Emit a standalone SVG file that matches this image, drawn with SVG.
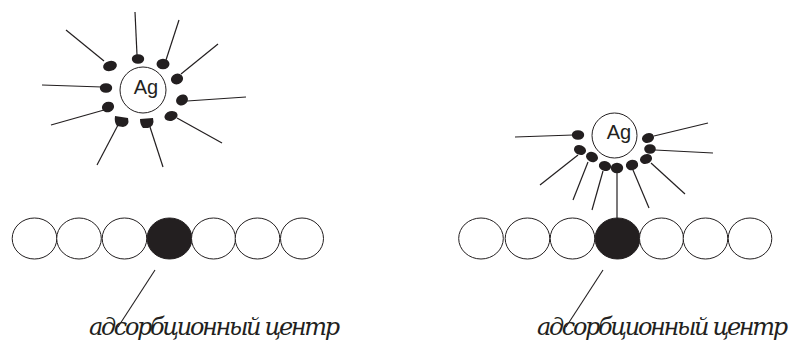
<svg xmlns="http://www.w3.org/2000/svg" width="790" height="344" viewBox="0 0 790 344">
  <style>
    .atom { fill: #ffffff; stroke: #231f20; stroke-width: 1; }
    .center { fill: #231f20; stroke: #231f20; stroke-width: 1; }
    .ag { fill: #ffffff; stroke: #231f20; stroke-width: 1; }
    .agtext { font-family: "Liberation Sans", Arial, sans-serif; font-size: 20px; fill: #231f20; }
    .tail { stroke: #231f20; stroke-width: 1.2; fill: none; }
    .head { fill: #231f20; }
    .lead { stroke: #231f20; stroke-width: 1.1; fill: none; }
    .label { font-family: "DejaVu Serif", "Liberation Serif", serif; font-style: italic; font-size: 24px; fill: #231f20; }
  </style>

  <!-- left: Ag particle with surrounding adsorbed molecules -->
  <g id="ag-left">
    <circle class="ag" cx="143" cy="90" r="23"/>
    <text class="agtext" x="146" y="94" text-anchor="middle">Ag</text>
  </g>
  <g id="molecules-left">
    <line class="tail" x1="66" y1="30" x2="104" y2="61"/>
    <ellipse class="head" cx="110" cy="66" rx="7" ry="5" transform="rotate(-15 110 66)"/>
    <line class="tail" x1="135" y1="12" x2="137" y2="55"/>
    <ellipse class="head" cx="138" cy="59" rx="6.2" ry="4.8"/>
    <line class="tail" x1="179" y1="20" x2="166" y2="60"/>
    <ellipse class="head" cx="163" cy="64" rx="6.5" ry="5.2"/>
    <line class="tail" x1="218" y1="44" x2="181" y2="74"/>
    <ellipse class="head" cx="177" cy="79" rx="6.2" ry="5.3" transform="rotate(-20 177 79)"/>
    <line class="tail" x1="246" y1="97" x2="187" y2="101"/>
    <ellipse class="head" cx="182" cy="100" rx="6.2" ry="5.2" transform="rotate(-30 182 100)"/>
    <line class="tail" x1="222" y1="143" x2="177" y2="118"/>
    <ellipse class="head" cx="171" cy="116" rx="6.7" ry="4.8" transform="rotate(-15 171 116)"/>
    <line class="tail" x1="163" y1="167" x2="150" y2="127"/>
    <path class="head" d="M140 119 L153 118 Q155 126 148 128 L143 128 Q140 125 140 119 Z"/>
    <line class="tail" x1="97" y1="165" x2="118" y2="125"/>
    <path class="head" d="M115 116 L128 118 Q130 126 123 127 L117 126 Q114 122 115 116 Z"/>
    <line class="tail" x1="51" y1="125" x2="104" y2="110"/>
    <ellipse class="head" cx="108" cy="107" rx="6.2" ry="5.2" transform="rotate(-20 108 107)"/>
    <line class="tail" x1="42" y1="85" x2="102" y2="87"/>
    <ellipse class="head" cx="106" cy="88" rx="6.2" ry="4.8"/>
  </g>

  <!-- left: surface row of atoms -->
  <g id="surface-left">
    <ellipse class="atom" cx="34.5" cy="238.5" rx="22.3" ry="20.5"/>
    <ellipse class="atom" cx="79" cy="238.5" rx="22.3" ry="20.5"/>
    <ellipse class="atom" cx="124.5" cy="238.5" rx="22.3" ry="20.5"/>
    <ellipse class="center" cx="169.5" cy="238.5" rx="22.5" ry="20.5"/>
    <ellipse class="atom" cx="213.5" cy="238.5" rx="22" ry="20.5"/>
    <ellipse class="atom" cx="257.5" cy="238.5" rx="22.3" ry="20.5"/>
    <ellipse class="atom" cx="302" cy="238.5" rx="21.5" ry="20.5"/>
  </g>
  <g id="label-left">
    <line class="lead" x1="155" y1="270" x2="118" y2="327"/>
    <text class="label" x="89" y="335" textLength="251" lengthAdjust="spacing">адсорбционный центр</text>
  </g>

  <!-- right: Ag particle with molecules bound to the adsorption centre -->
  <g id="ag-right">
    <circle class="ag" cx="614.5" cy="135.5" r="22.5"/>
    <text class="agtext" x="619" y="139" text-anchor="middle">Ag</text>
  </g>
  <g id="molecules-right">
    <line class="tail" x1="515" y1="137" x2="573" y2="135"/>
    <ellipse class="head" cx="578" cy="135" rx="6.2" ry="4.8"/>
    <line class="tail" x1="540" y1="185" x2="578" y2="155"/>
    <ellipse class="head" cx="580" cy="150" rx="6.2" ry="4.8" transform="rotate(20 580 150)"/>
    <line class="tail" x1="573" y1="200" x2="588" y2="162"/>
    <ellipse class="head" cx="592" cy="157" rx="6.2" ry="5" transform="rotate(25 592 157)"/>
    <line class="tail" x1="592" y1="210" x2="603" y2="171"/>
    <ellipse class="head" cx="605" cy="166" rx="6.2" ry="5" transform="rotate(15 605 166)"/>
    <line class="tail" x1="617" y1="218" x2="617" y2="173"/>
    <ellipse class="head" cx="617" cy="168" rx="6.2" ry="5.2"/>
    <line class="tail" x1="649" y1="208" x2="633" y2="170"/>
    <ellipse class="head" cx="632" cy="165" rx="6.2" ry="5.2" transform="rotate(-15 632 165)"/>
    <line class="tail" x1="685" y1="194" x2="651" y2="163"/>
    <ellipse class="head" cx="646" cy="159" rx="6.2" ry="4.8" transform="rotate(-20 646 159)"/>
    <line class="tail" x1="713" y1="153" x2="655" y2="150"/>
    <ellipse class="head" cx="650" cy="149" rx="5.8" ry="4.8"/>
    <line class="tail" x1="708" y1="123" x2="654" y2="136"/>
    <ellipse class="head" cx="648" cy="138" rx="6.2" ry="4.8" transform="rotate(-20 648 138)"/>
  </g>

  <!-- right: surface row of atoms -->
  <g id="surface-right">
    <ellipse class="atom" cx="481" cy="238.5" rx="22.3" ry="20.5"/>
    <ellipse class="atom" cx="527.5" cy="238.5" rx="22.3" ry="20.5"/>
    <ellipse class="atom" cx="572.5" cy="238.5" rx="22.3" ry="20.5"/>
    <ellipse class="center" cx="617.5" cy="238.5" rx="22.5" ry="20.5"/>
    <ellipse class="atom" cx="661.5" cy="238.5" rx="22" ry="20.5"/>
    <ellipse class="atom" cx="705.5" cy="238.5" rx="22.3" ry="20.5"/>
    <ellipse class="atom" cx="750" cy="238.5" rx="21.8" ry="20.5"/>
  </g>
  <g id="label-right">
    <line class="lead" x1="603" y1="270" x2="566" y2="327"/>
    <text class="label" x="537" y="335" textLength="251" lengthAdjust="spacing">адсорбционный центр</text>
  </g>
</svg>
